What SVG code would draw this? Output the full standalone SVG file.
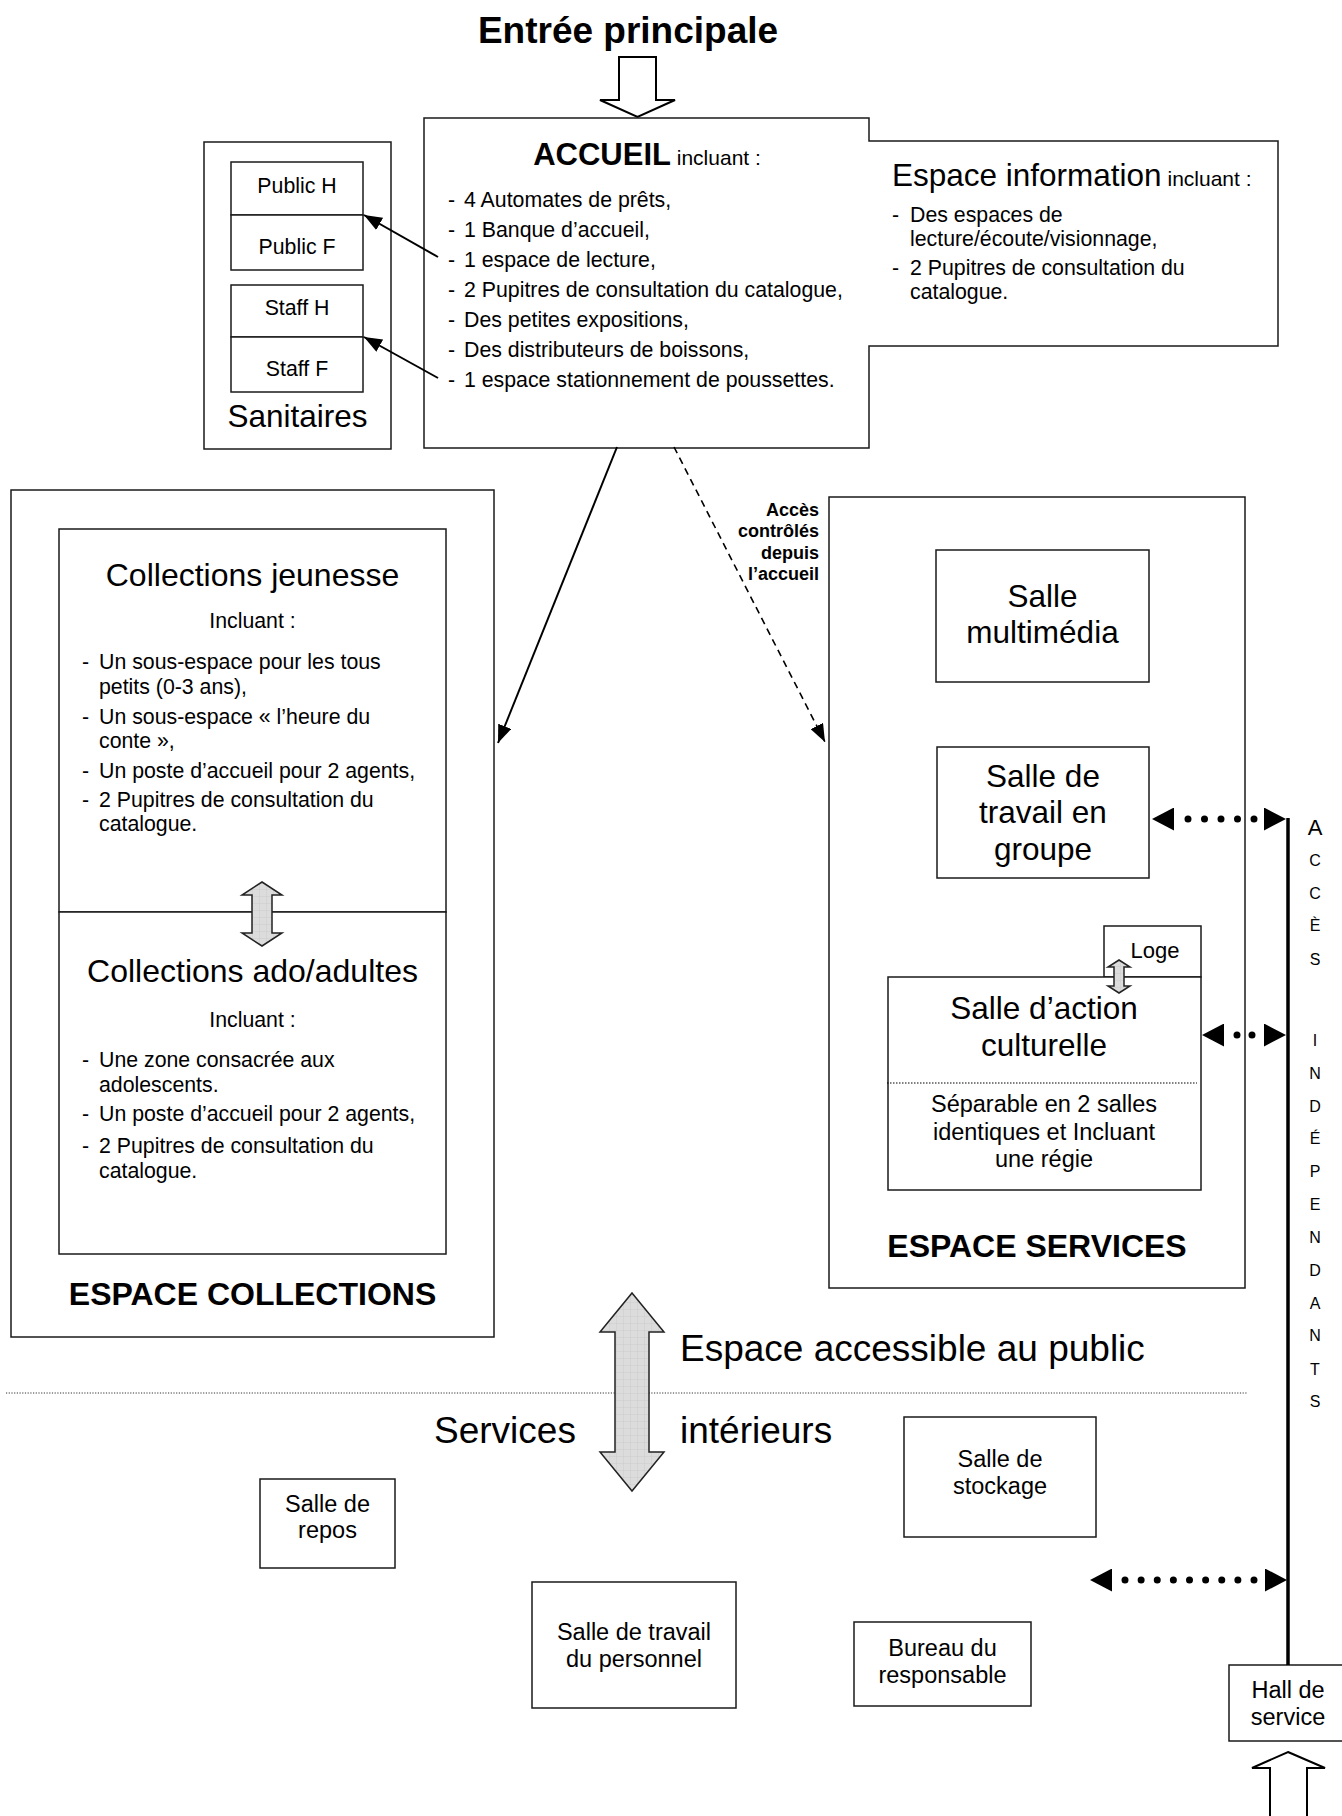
<svg xmlns="http://www.w3.org/2000/svg" xmlns:xlink="http://www.w3.org/1999/xlink" width="1342" height="1816" viewBox="0 0 1342 1816">
<style>
text{font-family:"Liberation Sans",Arial,sans-serif;fill:#000}
.box{fill:#fff;stroke:#1a1a1a;stroke-width:1.5}
.t31{font-size:31.5px}
.t21{font-size:21.3px}
.t23{font-size:23.5px}
.t37{font-size:37px}
.h32{font-size:32px;font-weight:bold}
.b{font-weight:bold}
.m{text-anchor:middle}
.r{text-anchor:end}
.solid{fill:none;stroke:#000;stroke-width:2}
.dash{fill:none;stroke:#000;stroke-width:1.6;stroke-dasharray:7 5}
.dots{fill:none;stroke:#000;stroke-width:7;stroke-linecap:round}
.heads{fill:none;stroke:none}
.hollow{fill:#fff;stroke:#000;stroke-width:2}
.gray{fill:url(#grid);stroke:#222;stroke-width:1.5}
.vl{font-size:16px;text-anchor:middle}
</style>
<defs>
<marker id="arr" viewBox="0 0 18 14" refX="18" refY="7" markerWidth="18" markerHeight="14" markerUnits="userSpaceOnUse" orient="auto"><path d="M0,0 L18,7 L0,14 z" fill="#000"/></marker>
<marker id="tri" viewBox="0 0 22 23" refX="22" refY="11.5" markerWidth="22" markerHeight="23" markerUnits="userSpaceOnUse" orient="auto-start-reverse"><path d="M0,0 L22,11.5 L0,23 z" fill="#000"/></marker>
<pattern id="grid" width="7" height="7" patternUnits="userSpaceOnUse"><rect width="7" height="7" fill="#dcdcdc"/><path d="M0,0H7M0,0V7" stroke="#c6c6c6" stroke-width="0.7"/></pattern>
</defs>
<rect width="1342" height="1816" fill="#fff"/>

<g id="title">
<text class="b m" x="628" y="43" font-size="37">Entrée principale</text>
<path class="hollow" d="M619,57 H656 V100 H675 L637.5,117 L600,100 H619 Z"/>
</g>

<g id="accueil">
<path class="box" d="M424,118 H869 V141 H1278 V346 H869 V448 H424 Z"/>
<text class="m" x="647" y="165"><tspan class="b" font-size="31">ACCUEIL</tspan><tspan font-size="21"> incluant :</tspan></text>
<g class="t21">
<text x="448" y="207">-</text><text x="464" y="207">4 Automates de prêts,</text>
<text x="448" y="237">-</text><text x="464" y="237">1 Banque d’accueil,</text>
<text x="448" y="267">-</text><text x="464" y="267">1 espace de lecture,</text>
<text x="448" y="297">-</text><text x="464" y="297">2 Pupitres de consultation du catalogue,</text>
<text x="448" y="327">-</text><text x="464" y="327">Des petites expositions,</text>
<text x="448" y="357">-</text><text x="464" y="357">Des distributeurs de boissons,</text>
<text x="448" y="387">-</text><text x="464" y="387">1 espace stationnement de poussettes.</text>
</g>
</g>

<g id="espace-information">
<text x="892" y="186"><tspan font-size="31.5">Espace information</tspan><tspan font-size="21"> incluant :</tspan></text>
<g class="t21">
<text x="892" y="222">-</text><text x="910" y="222">Des espaces de</text>
<text x="910" y="246">lecture/écoute/visionnage,</text>
<text x="892" y="275">-</text><text x="910" y="275">2 Pupitres de consultation du</text>
<text x="910" y="299">catalogue.</text>
</g>
</g>

<g id="sanitaires">
<rect class="box" x="204" y="142" width="187" height="307"/>
<text class="t31 m" x="297.5" y="427">Sanitaires</text>
</g>
<g id="public-h"><rect class="box" x="231" y="162" width="132" height="53"/><text class="t21 m" x="297" y="193">Public H</text></g>
<g id="public-f"><rect class="box" x="231" y="215" width="132" height="55"/><text class="t21 m" x="297" y="254">Public F</text></g>
<g id="staff-h"><rect class="box" x="231" y="285" width="132" height="52"/><text class="t21 m" x="297" y="315">Staff H</text></g>
<g id="staff-f"><rect class="box" x="231" y="337" width="132" height="55"/><text class="t21 m" x="297" y="376">Staff F</text></g>

<g id="espace-collections">
<rect class="box" x="11" y="490" width="483" height="847"/>
<text class="h32 m" x="252.5" y="1305">ESPACE COLLECTIONS</text>
</g>
<g id="collections-jeunesse">
<rect class="box" x="59" y="529" width="387" height="383"/>
<text class="m" x="252.5" y="586" font-size="32">Collections jeunesse</text>
<text class="t21 m" x="252.5" y="628">Incluant :</text>
<g class="t21">
<text x="82" y="669">-</text><text x="99" y="669">Un sous-espace pour les tous</text>
<text x="99" y="694">petits (0-3 ans),</text>
<text x="82" y="724">-</text><text x="99" y="724">Un sous-espace « l’heure du</text>
<text x="99" y="748">conte »,</text>
<text x="82" y="778">-</text><text x="99" y="778">Un poste d’accueil pour 2 agents,</text>
<text x="82" y="807">-</text><text x="99" y="807">2 Pupitres de consultation du</text>
<text x="99" y="831">catalogue.</text>
</g>
</g>
<g id="collections-ado">
<rect class="box" x="59" y="912" width="387" height="342"/>
<text class="m" x="252.5" y="982" font-size="32">Collections ado/adultes</text>
<text class="t21 m" x="252.5" y="1027">Incluant :</text>
<g class="t21">
<text x="82" y="1067">-</text><text x="99" y="1067">Une zone consacrée aux</text>
<text x="99" y="1092">adolescents.</text>
<text x="82" y="1121">-</text><text x="99" y="1121">Un poste d’accueil pour 2 agents,</text>
<text x="82" y="1153">-</text><text x="99" y="1153">2 Pupitres de consultation du</text>
<text x="99" y="1178">catalogue.</text>
</g>
</g>

<g id="espace-services">
<rect class="box" x="829" y="497" width="416" height="791"/>
<text class="h32 m" x="1037" y="1257">ESPACE SERVICES</text>
</g>
<g id="salle-multimedia">
<rect class="box" x="936" y="550" width="213" height="132"/>
<text class="t31 m" x="1042.5" y="607">Salle</text>
<text class="t31 m" x="1042.5" y="643">multimédia</text>
</g>
<g id="salle-travail-groupe">
<rect class="box" x="937" y="747" width="212" height="131"/>
<text class="t31 m" x="1043" y="787">Salle de</text>
<text class="t31 m" x="1043" y="823">travail en</text>
<text class="t31 m" x="1043" y="860">groupe</text>
</g>
<g id="loge">
<rect class="box" x="1104" y="926" width="97" height="51"/>
<text class="m" x="1155" y="958" font-size="22">Loge</text>
</g>
<g id="salle-action-culturelle">
<rect class="box" x="888" y="977" width="313" height="213"/>
<text class="t31 m" x="1044" y="1019">Salle d’action</text>
<text class="t31 m" x="1044" y="1056">culturelle</text>
<line x1="887" y1="1083" x2="1197" y2="1083" stroke="#000" stroke-width="1" stroke-dasharray="1.5 1.5"/>
<text class="t23 m" x="1044" y="1112">Séparable en 2 salles</text>
<text class="t23 m" x="1044" y="1140">identiques et Incluant</text>
<text class="t23 m" x="1044" y="1167">une régie</text>
</g>

<g id="services-interieurs">
<text class="t37" x="680" y="1361">Espace accessible au public</text>
<line x1="6" y1="1393" x2="1247" y2="1393" stroke="#333" stroke-width="1" stroke-dasharray="1.2 1.5"/>
<text class="t37" x="434" y="1443">Services</text>
<text class="t37" x="680" y="1443">intérieurs</text>
</g>
<g id="salle-stockage">
<rect class="box" x="904" y="1417" width="192" height="120"/>
<text class="t23 m" x="1000" y="1467">Salle de</text>
<text class="t23 m" x="1000" y="1494">stockage</text>
</g>
<g id="salle-repos">
<rect class="box" x="260" y="1479" width="135" height="89"/>
<text class="t23 m" x="327.5" y="1512">Salle de</text>
<text class="t23 m" x="327.5" y="1538">repos</text>
</g>
<g id="salle-travail-personnel">
<rect class="box" x="532" y="1582" width="204" height="126"/>
<text class="t23 m" x="634" y="1640">Salle de travail</text>
<text class="t23 m" x="634" y="1667">du personnel</text>
</g>
<g id="bureau-responsable">
<rect class="box" x="854" y="1622" width="177" height="84"/>
<text class="t23 m" x="942.5" y="1656">Bureau du</text>
<text class="t23 m" x="942.5" y="1683">responsable</text>
</g>
<g id="hall-service">
<rect class="box" x="1229" y="1665" width="120" height="76"/>
<text class="t23 m" x="1288" y="1698">Hall de</text>
<text class="t23 m" x="1288" y="1725">service</text>
</g>

<g id="acces-independants">
<text x="1315" y="835" font-size="22" text-anchor="middle">A</text>
<text class="vl" x="1315" y="866">C</text>
<text class="vl" x="1315" y="899">C</text>
<text class="vl" x="1315" y="931">È</text>
<text class="vl" x="1315" y="965">S</text>
<text class="vl" x="1315" y="1046">I</text>
<text class="vl" x="1315" y="1079">N</text>
<text class="vl" x="1315" y="1112">D</text>
<text class="vl" x="1315" y="1144">É</text>
<text class="vl" x="1315" y="1177">P</text>
<text class="vl" x="1315" y="1210">E</text>
<text class="vl" x="1315" y="1243">N</text>
<text class="vl" x="1315" y="1276">D</text>
<text class="vl" x="1315" y="1309">A</text>
<text class="vl" x="1315" y="1341">N</text>
<text class="vl" x="1315" y="1375">T</text>
<text class="vl" x="1315" y="1407">S</text>
</g>

<g id="connectors">
<line class="solid" x1="438" y1="257" x2="364" y2="215" marker-end="url(#arr)"/>
<line class="solid" x1="438" y1="378" x2="364" y2="337" marker-end="url(#arr)"/>
<line class="solid" x1="617" y1="447" x2="498" y2="743" marker-end="url(#arr)"/>
<line class="dash" x1="674" y1="447" x2="825" y2="742" marker-end="url(#arr)"/>
<text class="b r" x="819" y="516" font-size="18">Accès</text>
<text class="b r" x="819" y="537" font-size="18">contrôlés</text>
<text class="b r" x="819" y="559" font-size="18">depuis</text>
<text class="b r" x="819" y="580" font-size="18">l’accueil</text>

<path class="gray" d="M262,882 L282,895 H272 V933 H282 L262,946 L242,933 H252 V895 H242 Z"/>
<path class="gray" d="M1119,960 L1130,967 H1124 V986 H1130 L1119,993 L1108,986 H1114 V967 H1108 Z"/>
<path class="gray" d="M632,1293 L664,1332 H649 V1452 H664 L632,1491 L600,1452 H615 V1332 H600 Z"/>

<line x1="1288" y1="818" x2="1288" y2="1665" stroke="#000" stroke-width="3.5"/>
<path class="heads" d="M1152,819 H1286" marker-start="url(#tri)" marker-end="url(#tri)"/>
<path class="dots" d="M1188,819 H1254.5" stroke-dasharray="0 16.5"/>
<path class="heads" d="M1202,1035 H1286" marker-start="url(#tri)" marker-end="url(#tri)"/>
<path class="dots" d="M1237,1035 H1252.5" stroke-dasharray="0 15"/>
<path class="heads" d="M1090,1580 H1287" marker-start="url(#tri)" marker-end="url(#tri)"/>
<path class="dots" d="M1125,1580 H1254.5" stroke-dasharray="0 16.125"/>

<path class="hollow" d="M1288,1752 L1325,1768 H1307 V1820 H1270 V1768 H1252 Z"/>
</g>
</svg>
